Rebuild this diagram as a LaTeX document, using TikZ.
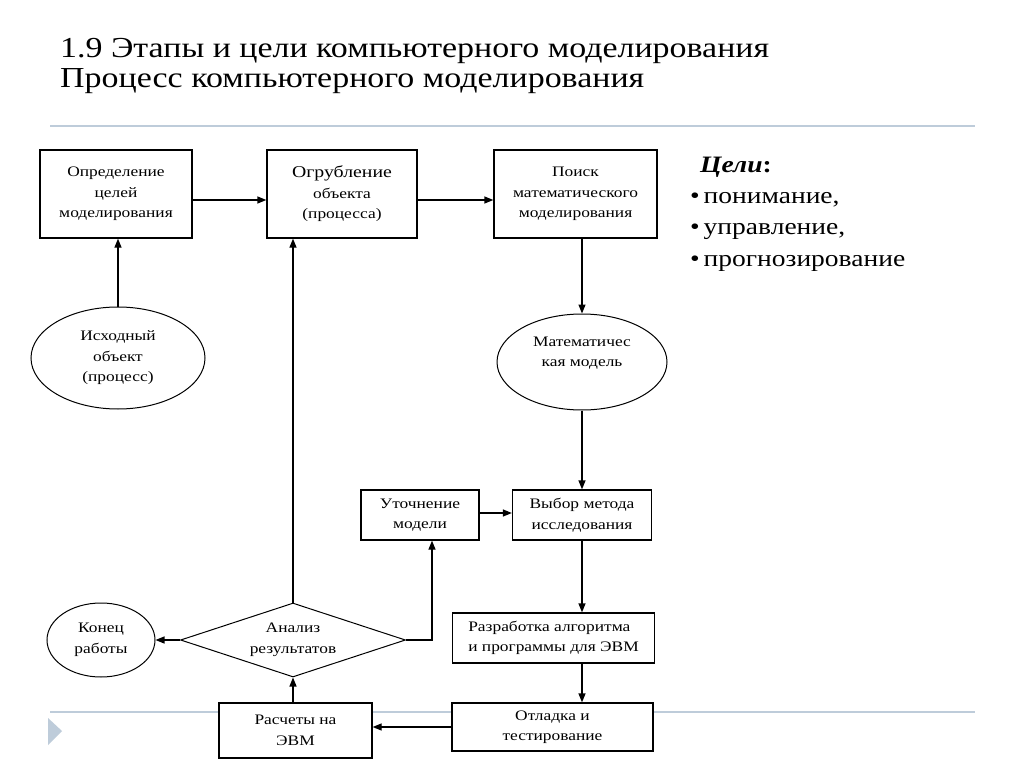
\documentclass[tikz,border=0pt]{standalone}
\usepackage{fontspec}
\setmainfont{Liberation Serif}
\newfontfamily\dfont[FakeStretch=1.2]{Liberation Serif}
\newfontfamily\tfont[FakeStretch=1.17]{Liberation Serif}
\usetikzlibrary{shapes.geometric,arrows.meta}
\definecolor{rulecol}{RGB}{190,204,218}
\begin{document}
\begin{tikzpicture}[x=1pt,y=-1pt,
  every node/.style={inner sep=0pt},
  dtext/.style={font=\dfont\fontsize{14.5}{20.5}\selectfont},
  box/.style={draw, line width=1.3pt, fill=white, rectangle, align=center, dtext},
  oval/.style={draw, line width=1pt, ellipse, align=center, dtext},
  arr/.style={-{Triangle[length=9pt,width=7pt]}, line width=1.3pt},
  ttext/.style={anchor=base west, align=left, font=\tfont\fontsize{29}{30}\selectfont},
  gtext/.style={anchor=base west, align=left, font=\tfont\fontsize{23.5}{30}\selectfont}]
\useasboundingbox (0,0) rectangle (1024,767);
\fill[white] (0,0) rectangle (1024,767);
% title
\node[ttext] (title) at (60,58) {1.9 Этапы и цели компьютерного моделирования};
\node[ttext] (title2) at (60,88) {Процесс компьютерного моделирования};
\draw[rulecol, line width=1.5pt] (50,126) -- (975,126);
\draw[rulecol, line width=1.5pt] (50,712) -- (975,712);
\fill[rulecol] (48,718) -- (62,731) -- (48,745) -- cycle;
% goals
\node[gtext, font=\tfont\fontsize{23.5}{30}\selectfont\bfseries\itshape] (goals) at (700,173) {Цели\textup{:}};
\node[gtext] (list) at (690,204) {\textbullet\,понимание,};
\node[gtext] (list2) at (690,235) {\textbullet\,управление,};
\node[gtext] (list3) at (690,266) {\textbullet\,прогнозирование};
% boxes
\node[box, minimum width=152pt, minimum height=88pt] (A) at (116,194) {Определение\\целей\\моделирования};
\node[box, minimum width=150pt, minimum height=88pt] (B) at (342,194) {{\dfont\fontsize{16.5}{20.5}\selectfont Огрубление}\\объекта\\(процесса)};
\node[box, minimum width=163pt, minimum height=88pt] (C) at (575.5,194) {Поиск\\математического\\моделирования};
\node[oval, minimum width=174pt, minimum height=102pt] (I) at (118,358) {Исходный\\объект\\(процесс)};
\node[oval, minimum width=170pt, minimum height=96pt] (M) at (582,362) {Математичес\\кая модель\\\mbox{}};
\node[box, minimum width=118pt, minimum height=50pt] (U) at (420,515) {Уточнение\\модели};
\node[box, minimum width=139pt, minimum height=50pt] (V) at (582,515) {Выбор метода\\исследования};
\node[box, minimum width=202pt, minimum height=50pt, align=left] (R) at (553.5,638) {Разработка алгоритма\\и программы для ЭВМ};
\node[box, minimum width=201pt, minimum height=48pt] (O) at (552.5,727) {Отладка и\\тестирование};
\node[box, minimum width=153pt, minimum height=55pt] (E) at (295.5,730.5) {Расчеты на\\ЭВМ};
\node[draw, line width=1pt, diamond, aspect=3.04, minimum width=225pt, minimum height=74pt, align=center, dtext] (D) at (293,640) {Анализ\\результатов};
\node[oval, minimum width=108pt, minimum height=74pt] (K) at (101,640) {Конец\\работы};
% connectors
\draw[arr] ([yshift=-6pt]A.east) -- ([yshift=-6pt]B.west);
\draw[arr] ([yshift=-6pt]B.east) -- ([yshift=-6pt]C.west);
\draw[arr] (I.north) -- (I.north |- A.south);
\draw[arr] (M.north |- C.south) -- (M.north);
\draw[arr] (M.south) -- (V.north);
\draw[arr] ([yshift=2pt]U.east) -- ([yshift=2pt]V.west);
\draw[arr] (V.south) -- (V.south |- R.north);
\draw[arr] (V.south |- R.south) -- (V.south |- O.north);
\draw[arr] (O.west) -- (O.west -| E.east);
\draw[arr] (D.south |- E.north) -- (D.south);
\draw[arr] (D.north) -- (D.north |- B.south);
\draw[arr] (D.west) -- (K.east);
\coordinate (cr) at (432,640);
\draw[arr] (D.east) -- (cr) -- (cr |- U.south);
\end{tikzpicture}
\end{document}
